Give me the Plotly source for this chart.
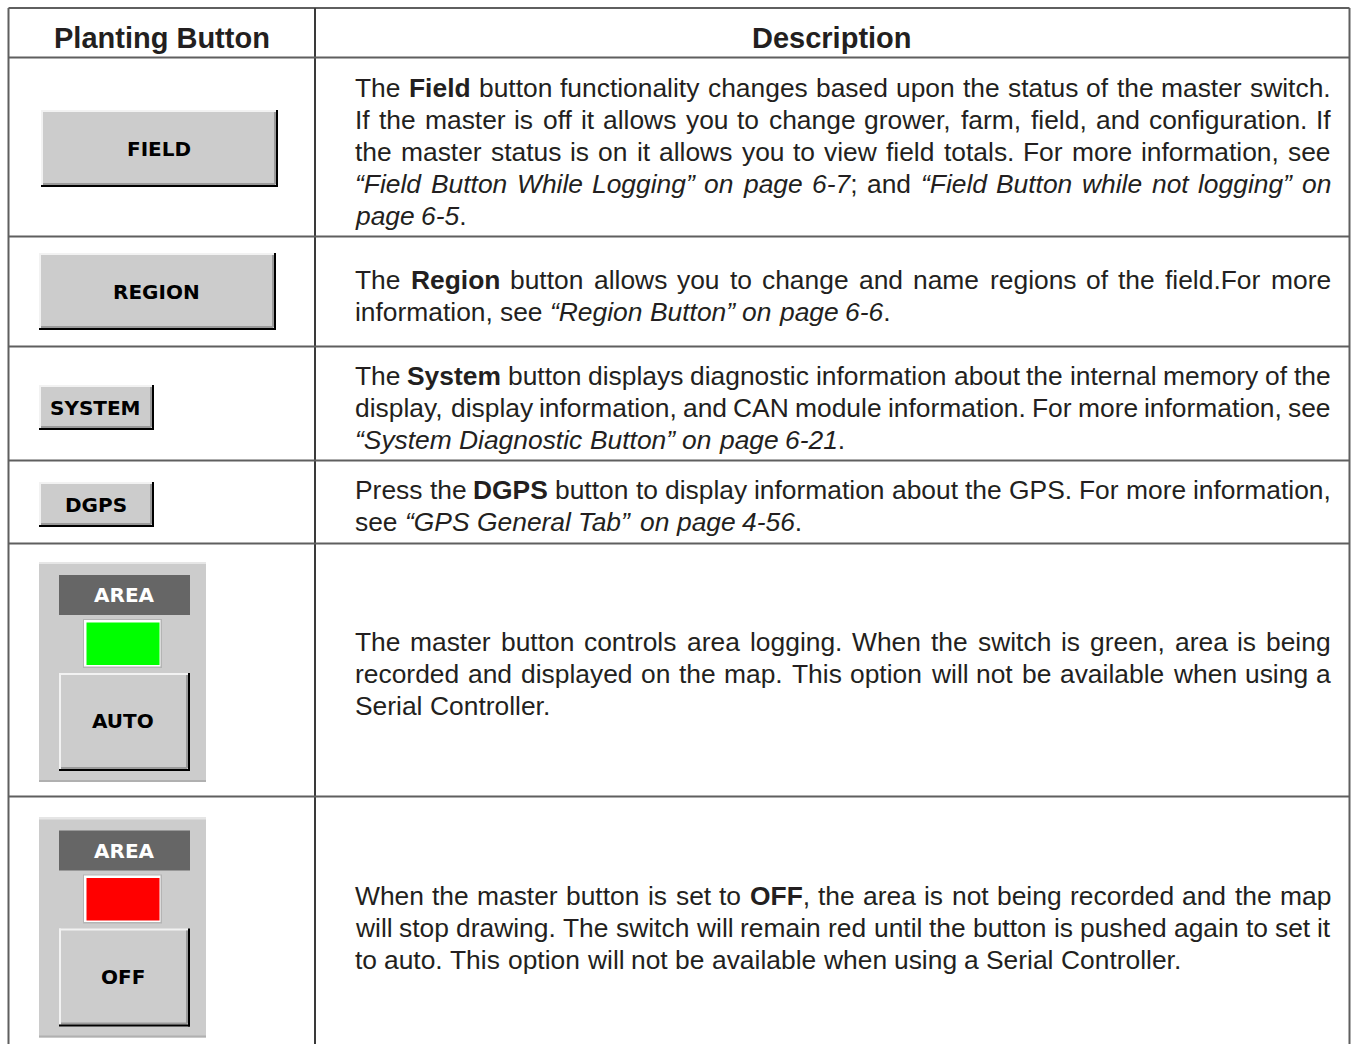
import re
import plotly.graph_objects as go

W, H = 1351, 1044

# ---------------- data ----------------
headers = ["Planting Button", "Description"]
small_buttons = ["FIELD", "REGION", "SYSTEM", "DGPS"]
area_title = "AREA"
area_states = ["AUTO", "OFF"]
area_colors = ["#00ff00", "#ff0000"]

descriptions = [
    ["The <b>Field</b> button functionality changes based upon the status of the master switch.",
     "If the master is off it allows you to change grower, farm, field, and configuration. If",
     "the master status is on it allows you to view field totals. For more information, see",
     "<i>“Field Button While Logging” on page 6-7</i>; and <i>“Field Button while not logging” on</i>",
     "<i>page 6-5</i>."],
    ["The <b>Region</b> button allows you to change and name regions of the field.For more",
     "information, see <i>“Region Button” on page 6-6</i>."],
    ["The <b>System</b> button displays diagnostic information about the internal memory of the",
     "display, display information, and CAN module information. For more information, see",
     "<i>“System Diagnostic Button” on page 6-21</i>."],
    ["Press the <b>DGPS</b> button to display information about the GPS. For more information,",
     "see <i>“GPS General Tab” on page 4-56</i>."],
    ["The master button controls area logging.  When the switch is green, area is being",
     "recorded and displayed on the map.  This option will not be available when using a",
     "Serial Controller."],
    ["When the master button is set to <b>OFF</b>, the area is not being recorded and the map",
     "will stop drawing.  The switch will remain red until the button is pushed again to set it",
     "to auto. This option will not be available when using a Serial Controller."],
]

# ---------------- layout constants ----------------
TABLE_L, TABLE_R, TABLE_T = 8.5, 1349.5, 8
COL_X = 315
ROW_LINES = [57.5, 236.5, 346.5, 460.5, 543.5, 796.5]
PARA_Y0 = [88, 280, 376, 490, 642, 896]
LINE_H = 32
TXT_L, TXT_R = 355, 1331
BODY_SIZE = 26.4
BODY_FONT = "Liberation Sans, Arial, Helvetica, sans-serif"
TXT_COL = "#231f20"
BORDER = "#5f5f5f"

# Helvetica / Arial advance widths (1/1000 em)
REG = dict(zip("ABCDEFGHIJKLMNOPQRSTUVWXYZ",
               [667, 667, 722, 722, 667, 611, 778, 722, 278, 500, 667, 556, 833,
                722, 778, 667, 778, 722, 667, 611, 722, 667, 944, 667, 667, 611]))
REG.update(dict(zip("abcdefghijklmnopqrstuvwxyz",
                    [556, 556, 500, 556, 556, 278, 556, 556, 222, 222, 500, 222, 833,
                     556, 556, 556, 556, 333, 500, 278, 556, 500, 722, 500, 500, 500])))
REG.update({c: 556 for c in "0123456789"})
REG.update({" ": 278, ",": 278, ".": 278, ";": 278, ":": 278, "-": 333,
            "“": 333, "”": 333, "’": 222, "'": 191})
BOLD = dict(zip("ABCDEFGHIJKLMNOPQRSTUVWXYZ",
                [722, 722, 722, 722, 667, 611, 778, 722, 278, 556, 722, 611, 833,
                 722, 778, 667, 778, 722, 667, 611, 722, 667, 944, 667, 667, 611]))
BOLD.update(dict(zip("abcdefghijklmnopqrstuvwxyz",
                     [556, 611, 556, 611, 556, 333, 611, 611, 278, 278, 556, 278, 889,
                      611, 611, 611, 611, 389, 556, 333, 611, 556, 778, 556, 556, 500])))
BOLD.update({c: 556 for c in "0123456789"})
BOLD.update({" ": 278, ",": 278, ".": 278, ";": 333, ":": 333, "-": 333,
             "“": 500, "”": 500})


def parse_words(line):
    bold = ital = False
    words, cur = [], []
    for tok in re.split(r"(</?[bi]>)", line):
        if tok == "<b>":
            bold = True
        elif tok == "</b>":
            bold = False
        elif tok == "<i>":
            ital = True
        elif tok == "</i>":
            ital = False
        else:
            for ch in tok:
                if ch == " ":
                    if cur:
                        words.append(cur)
                        cur = []
                else:
                    cur.append((ch, bold, ital))
    if cur:
        words.append(cur)
    return words


def word_markup(word):
    out, run, st = [], "", None
    for ch, b, i in word + [(None, None, None)]:
        s = (b, i)
        if ch is None or s != st:
            if run:
                t = run
                if st[1]:
                    t = "<i>" + t + "</i>"
                if st[0]:
                    t = "<b>" + t + "</b>"
                out.append(t)
            run, st = "", s
        if ch is not None:
            run += ch
    return "".join(out)


def word_width(word, size):
    return sum((BOLD if b else REG).get(ch, 556) for ch, b, i in word) * size / 1000.0


fig = go.Figure()
fig.add_trace(go.Scatter(x=[0, W], y=[0, H], mode="markers",
                         marker=dict(opacity=0), hoverinfo="skip", showlegend=False))

shapes, annots = [], []


def line(x0, y0, x1, y1, color, width):
    shapes.append(dict(type="line", xref="x", yref="y", x0=x0, y0=y0, x1=x1, y1=y1,
                       line=dict(color=color, width=width), layer="above"))


def rect(x0, y0, x1, y1, fill, lc=None, lw=0):
    shapes.append(dict(type="rect", xref="x", yref="y", x0=x0, y0=y0, x1=x1, y1=y1,
                       fillcolor=fill, line=dict(color=lc or fill, width=lw), layer="above"))


def bevel(x0, y0, x1, y1):
    rect(x0, y0, x1, y1, "#cccccc")
    line(x0, y0 + 1, x1 - 2, y0 + 1, "#f2f2f2", 2)
    line(x0 + 1, y0, x0 + 1, y1 - 2, "#f2f2f2", 2)
    line(x0 + 2, y1 - 3, x1 - 3, y1 - 3, "#9a9a9a", 2)
    line(x1 - 3, y0 + 2, x1 - 3, y1 - 3, "#9a9a9a", 2)
    line(x0, y1 - 1, x1, y1 - 1, "#000000", 2)
    line(x1 - 1, y0, x1 - 1, y1, "#000000", 2)


def label(x, y, text, color="#000000", size=20):
    annots.append(dict(x=x, y=y, xref="x", yref="y", text="<b>" + text + "</b>",
                       showarrow=False, xanchor="center", yanchor="middle",
                       borderpad=0, borderwidth=0,
                       font=dict(family="DejaVu Sans, Verdana, sans-serif", size=size, color=color)))


# ---------------- table grid ----------------
line(TABLE_L, TABLE_T, TABLE_R, TABLE_T, BORDER, 2)
line(TABLE_L, TABLE_T, TABLE_L, H + 20, BORDER, 2)
line(TABLE_R, TABLE_T, TABLE_R, H + 20, BORDER, 2)
line(COL_X, TABLE_T, COL_X, H + 20, "#3a3a3a", 2)
for yl in ROW_LINES:
    line(TABLE_L, yl, TABLE_R, yl, BORDER, 2.2)

# headers
for hx, htxt in zip([162, 832], headers):
    annots.append(dict(x=hx, y=38, xref="x", yref="y", text="<b>" + htxt + "</b>",
                       showarrow=False, xanchor="center", yanchor="middle",
                       borderpad=0, borderwidth=0,
                       font=dict(family=BODY_FONT, size=29, color=TXT_COL)))

# ---------------- buttons ----------------
btn_boxes = [(41, 110, 278, 187), (39, 253, 276, 330), (39, 385, 154, 430), (39, 482, 154, 527)]
for (x0, y0, x1, y1), name in zip(btn_boxes, small_buttons):
    bevel(x0, y0, x1, y1)
    label((x0 + x1) / 2 - 1, (y0 + y1) / 2, name)

for k, (state, col) in enumerate(zip(area_states, area_colors)):
    oy = 562 + k * 255.5
    rect(39, oy, 206, oy + 220, "#cccccc")
    line(39, oy + 1, 206, oy + 1, "#e6e6e6", 2)
    line(39, oy + 219, 206, oy + 219, "#b0b0b0", 2)
    rect(59, oy + 13, 190, oy + 53, "#666666")
    label(124.5, oy + 33, area_title, color="#ffffff")
    rect(83, oy + 57, 162, oy + 106, "#b4b4b4")
    rect(84, oy + 58, 160.5, oy + 104.5, "#ffffff")
    rect(86.5, oy + 60.5, 159.5, oy + 103, col)
    bevel(59, oy + 111, 190, oy + 209)
    label(123, oy + 159, state)

# ---------------- description text (justified) ----------------
for p, (para, y0) in enumerate(zip(descriptions, PARA_Y0)):
    for li, ln in enumerate(para):
        y = y0 + li * LINE_H
        words = parse_words(ln)
        widths = [word_width(w, BODY_SIZE) for w in words]
        last = li == len(para) - 1
        if last or len(words) < 2:
            gap = REG[" "] * BODY_SIZE / 1000.0
        else:
            gap = (TXT_R - TXT_L - sum(widths)) / (len(words) - 1)
        x = TXT_L
        for wi, (w, wd) in enumerate(zip(words, widths)):
            if (not last) and wi == len(words) - 1 and len(words) > 1:
                xa, xp = "right", TXT_R
            else:
                xa, xp = "left", x
            annots.append(dict(x=xp, y=y, xref="x", yref="y", text=word_markup(w),
                               showarrow=False, xanchor=xa, yanchor="middle",
                               borderpad=0, borderwidth=0,
                               font=dict(family=BODY_FONT, size=BODY_SIZE, color=TXT_COL)))
            x += wd + gap

fig.update_layout(
    width=W, height=H,
    margin=dict(l=0, r=0, t=0, b=0, pad=0),
    paper_bgcolor="#ffffff", plot_bgcolor="#ffffff",
    xaxis=dict(range=[0, W], visible=False, fixedrange=True),
    yaxis=dict(range=[H, 0], visible=False, fixedrange=True),
    shapes=shapes, annotations=annots, showlegend=False,
)

# remove the browser's default 8px body margin so the figure fills the window exactly
fig.write_html("out.html", config={"displayModeBar": False},
               post_script="document.body.style.margin='0';document.body.style.overflow='hidden';")
